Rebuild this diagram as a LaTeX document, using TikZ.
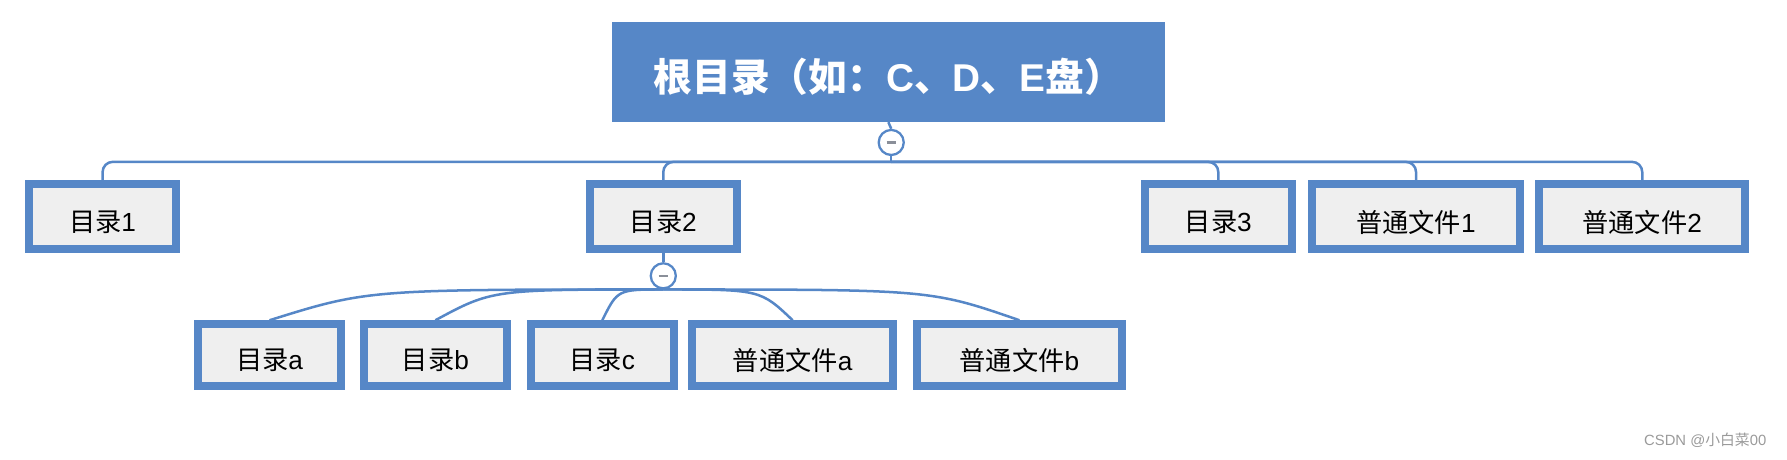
\documentclass[tikz,border=0pt]{standalone}
\usepackage{fontspec}
\setmainfont{Liberation Sans}
\newfontfamily\cjk{Noto Sans CJK SC}
\usetikzlibrary{calc}
\definecolor{mblue}{HTML}{5687C7}
\definecolor{lgray}{HTML}{EFEFEF}
\definecolor{wmgray}{HTML}{9A9A9A}
\definecolor{mgray}{HTML}{8A8F99}
\pgfdeclarelayer{bg}
\pgfsetlayers{bg,main}
\newcommand{\lowr}[2]{\raisebox{-#1}[\height][\depth]{#2}}
\tikzset{
  leaf/.style={draw=mblue, line width=7pt, fill=lgray, inner sep=0pt, text=black,
    font=\fontsize{23}{26}\selectfont},
  rootbox/.style={fill=mblue, inner sep=0pt, minimum width=485pt, minimum height=88pt,
    text=white, font=\fontsize{34}{38}\selectfont\bfseries},
  fold/.style={circle, draw=mblue, line width=2pt, fill=white, minimum size=22pt, inner sep=0pt},
  foldmark/.style={draw=mgray, line width=2pt},
  conn/.style={draw=mblue, line width=2.2pt},
}
\begin{document}
\begin{tikzpicture}[x=1pt,y=-1pt]
\useasboundingbox (0,0) rectangle (1568,402.75);
% root
\node[rootbox] (root) at (779.5,63) {\lowr{4pt}{{\cjk 根目录（如：}C{\cjk 、}D{\cjk 、}E{\cjk 盘）}}};
\node[fold] (c1) at (782,125) {};
\draw[foldmark] ([xshift=-4pt]c1.center) -- ([xshift=4pt]c1.center);
% level 1
\node[leaf, minimum width=129pt, minimum height=57pt] (d1) at (90,190) {\lowr{5pt}{{\cjk 目录}1}};
\node[leaf, minimum width=129pt, minimum height=57pt] (d2) at (582,190) {\lowr{5pt}{{\cjk 目录}2}};
\node[leaf, minimum width=129pt, minimum height=57pt] (d3) at (1069,190) {\lowr{5pt}{{\cjk 目录}3}};
\node[leaf, minimum width=182pt, minimum height=57pt] (f1) at (1242.5,190) {\lowr{5pt}{{\cjk 普通文件}1}};
\node[leaf, minimum width=181pt, minimum height=57pt] (f2) at (1441,190) {\lowr{5pt}{{\cjk 普通文件}2}};
\node[fold] (c2) at (582,242) {};
\draw[foldmark] ([xshift=-4pt]c2.center) -- ([xshift=4pt]c2.center);
% level 2
\node[leaf, minimum width=126pt, minimum height=54pt] (a) at (236.5,311.5) {\lowr{5pt}{{\cjk 目录}a}};
\node[leaf, minimum width=125pt, minimum height=54pt] (b) at (382,311.5) {\lowr{5pt}{{\cjk 目录}b}};
\node[leaf, minimum width=126pt, minimum height=54pt] (c) at (528.5,311.5) {\lowr{5pt}{{\cjk 目录}c}};
\node[leaf, minimum width=176pt, minimum height=54pt] (fa) at (695.5,311.5) {\lowr{5pt}{{\cjk 普通文件}a}};
\node[leaf, minimum width=180pt, minimum height=54pt] (fb) at (894.5,311.5) {\lowr{5pt}{{\cjk 普通文件}b}};
% watermark
\node[anchor=east, inner sep=0pt, text=wmgray, font=\fontsize{13}{15}\selectfont] (wm) at (1550,386) {CSDN @{\cjk 小白菜}00};
% connectors
\begin{pgfonlayer}{bg}
\coordinate (b1) at (782,142);
\draw[conn] (root.south) -- (c1.north);
\draw[conn] (c1.south) -- (b1);
\foreach \n in {d1,d2,d3,f1,f2}
  \draw[conn, rounded corners=9pt] (b1) -| (\n.north);
\draw[conn] (d2.south) -- (c2.north);
\foreach \n in {a,b,c,fa,fb}
  \draw[conn] (c2.south) .. controls ($(c2.south)!0.75!(c2.south -| \n.north)$) .. (\n.north);
\end{pgfonlayer}
\end{tikzpicture}
\end{document}
